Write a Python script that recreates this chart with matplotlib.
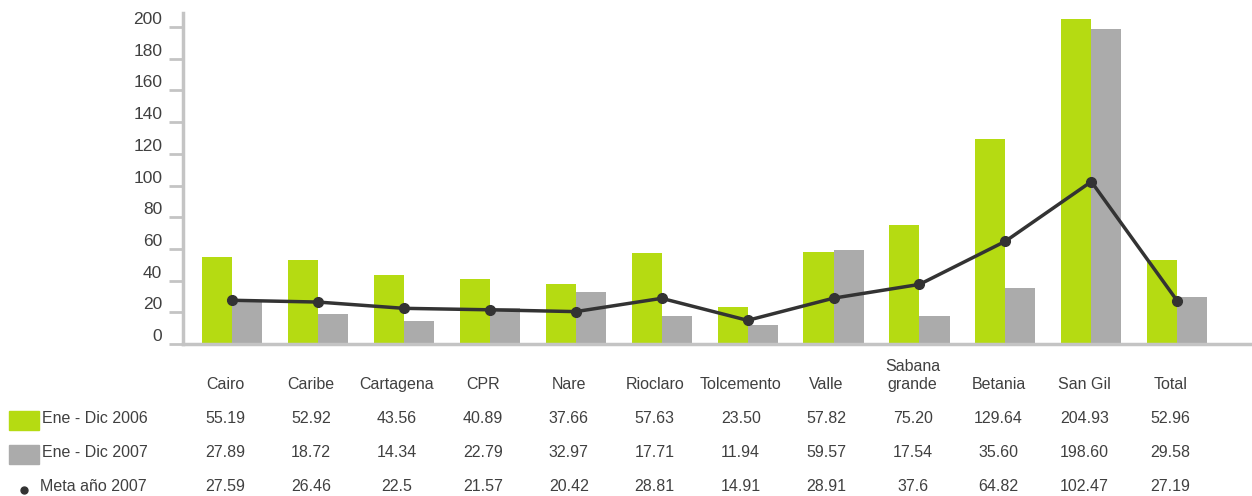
import numpy as np
import matplotlib
matplotlib.use("Agg")
import matplotlib.pyplot as plt
import matplotlib.transforms as mtransforms
from matplotlib.patches import Rectangle

plt.rcParams['font.family'] = ['Liberation Sans', 'DejaVu Sans']

# datos
categorias = ["Cairo", "Caribe", "Cartagena", "CPR", "Nare", "Rioclaro",
              "Tolcemento", "Valle", "Sabana\ngrande", "Betania", "San Gil", "Total"]
ene_dic_2006 = [55.19, 52.92, 43.56, 40.89, 37.66, 57.63, 23.50, 57.82, 75.20, 129.64, 204.93, 52.96]
ene_dic_2007 = [27.89, 18.72, 14.34, 22.79, 32.97, 17.71, 11.94, 59.57, 17.54, 35.60, 198.60, 29.58]
meta_2007 = [27.59, 26.46, 22.5, 21.57, 20.42, 28.81, 14.91, 28.91, 37.6, 64.82, 102.47, 27.19]
txt_2006 = ["55.19", "52.92", "43.56", "40.89", "37.66", "57.63", "23.50", "57.82", "75.20", "129.64", "204.93", "52.96"]
txt_2007 = ["27.89", "18.72", "14.34", "22.79", "32.97", "17.71", "11.94", "59.57", "17.54", "35.60", "198.60", "29.58"]
txt_meta = ["27.59", "26.46", "22.5", "21.57", "20.42", "28.81", "14.91", "28.91", "37.6", "64.82", "102.47", "27.19"]
serie_labels = ["Ene - Dic 2006", "Ene - Dic 2007", "Meta año 2007"]

verde = "#b5db12"
gris = "#ababab"
linea = "#333333"
texto = "#404040"
eje = "#c4c4c4"

fig = plt.figure(figsize=(12.52, 4.96), dpi=100)
ax = fig.add_axes([0.1462, 0.3065, 0.8538, 0.667])

x = np.arange(len(categorias))
w = 0.35
ax.bar(x - w / 2, ene_dic_2006, w, color=verde, zorder=2)
ax.bar(x + w / 2, ene_dic_2007, w, color=gris, zorder=2)
ax.plot(x, meta_2007, color=linea, lw=2.5, marker='o', ms=7, zorder=3)

ax.set_xlim(-0.57, 11.87)
ax.set_ylim(0, 208.8)
ax.set_yticks(range(0, 201, 20))
ax.set_xticks([])
for s in ["top", "right"]:
    ax.spines[s].set_visible(False)
for s in ["left", "bottom"]:
    ax.spines[s].set_color(eje)
    ax.spines[s].set_linewidth(2.5)
ax.tick_params(axis='y', length=10, width=2, color=eje, labelcolor=texto,
               labelsize=12.5, pad=5)
offset = mtransforms.ScaledTranslation(0, 9 / 100, fig.dpi_scale_trans)
for lab in ax.get_yticklabels():
    lab.set_transform(lab.get_transform() + offset)

# tabla inferior
tr = mtransforms.blended_transform_factory(ax.transData, fig.transFigure)
fs = 11.5
for i, c in enumerate(categorias):
    if "\n" in c:
        top, bot = c.split("\n")
        ax.text(i - 0.08, 1 - 371 / 496, top, transform=tr, ha='center', va='baseline', fontsize=fs, color=texto)
        ax.text(i - 0.08, 1 - 389 / 496, bot, transform=tr, ha='center', va='baseline', fontsize=fs, color=texto)
    else:
        ax.text(i - 0.08, 1 - 389 / 496, c, transform=tr, ha='center', va='baseline', fontsize=fs, color=texto)
    ax.text(i - 0.08, 1 - 423 / 496, txt_2006[i], transform=tr, ha='center', va='baseline', fontsize=fs, color=texto)
    ax.text(i - 0.08, 1 - 457 / 496, txt_2007[i], transform=tr, ha='center', va='baseline', fontsize=fs, color=texto)
    ax.text(i - 0.08, 1 - 491 / 496, txt_meta[i], transform=tr, ha='center', va='baseline', fontsize=fs, color=texto)

# leyenda
fig.patches.append(Rectangle((9 / 1252, 1 - 430 / 496), 30 / 1252, 19 / 496,
                             transform=fig.transFigure, color=verde))
fig.patches.append(Rectangle((9 / 1252, 1 - 464 / 496), 30 / 1252, 19 / 496,
                             transform=fig.transFigure, color=gris))
fig.add_artist(plt.Line2D([24 / 1252], [1 - 490 / 496], marker='o', ms=5,
                          color=linea, transform=fig.transFigure))
fig.text(42 / 1252, 1 - 423 / 496, serie_labels[0], ha='left', va='baseline', fontsize=fs, color=texto)
fig.text(42 / 1252, 1 - 457 / 496, serie_labels[1], ha='left', va='baseline', fontsize=fs, color=texto)
fig.text(40 / 1252, 1 - 491 / 496, serie_labels[2], ha='left', va='baseline', fontsize=fs, color=texto)

fig.savefig("out.png", dpi=100)
